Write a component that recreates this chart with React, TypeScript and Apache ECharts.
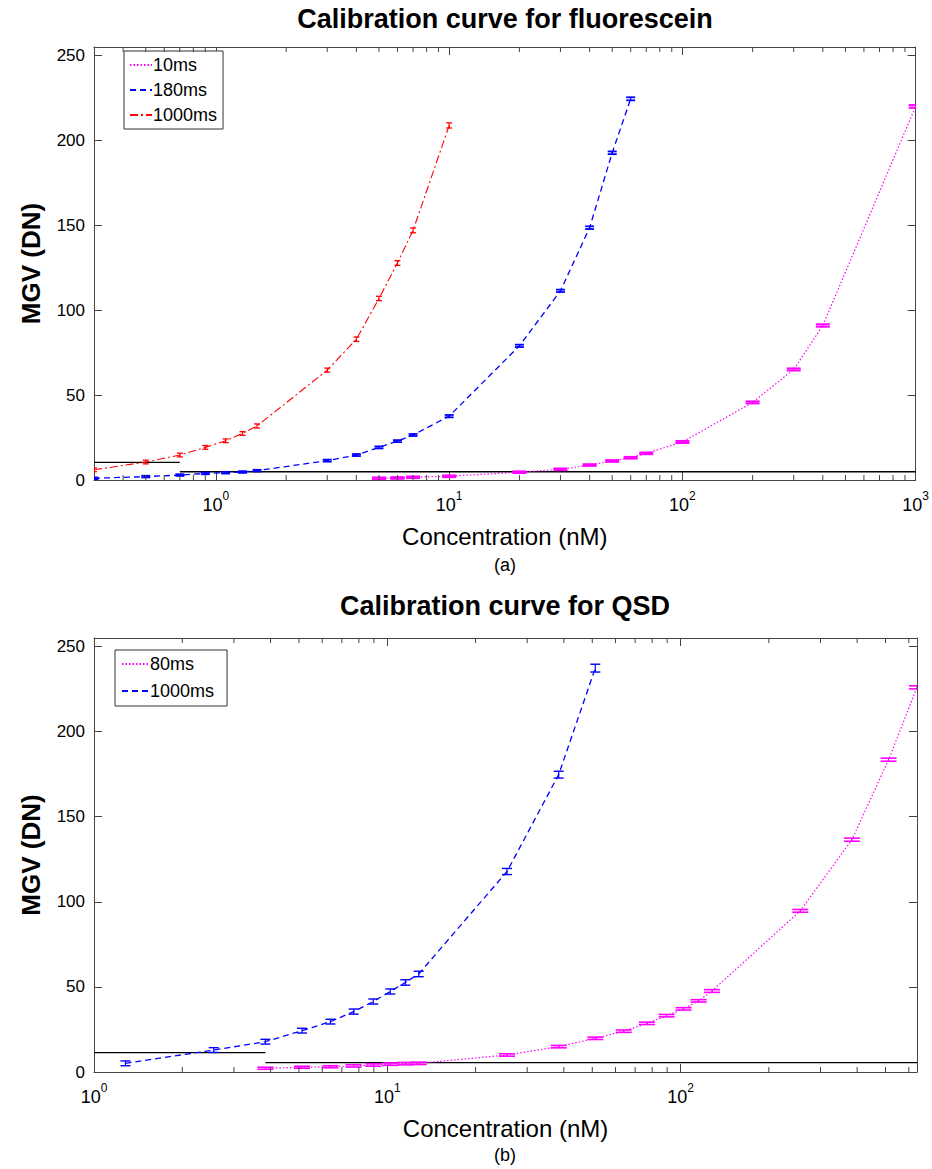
import React, { useEffect, useRef } from "react";
import * as echarts from "echarts";

// ---------- Panel (a): fluorescein ----------
const fConc10 = [5, 6, 7, 10, 20, 30, 40, 50, 60, 70, 100, 200, 300, 400, 1000];
const fMgv10 = [1.0, 1.2, 1.6, 2.2, 4.6, 6.3, 8.8, 11.2, 13.1, 15.7, 22.4, 45.7, 65.1, 91, 220];
const fErr10 = [0.5, 0.5, 0.5, 0.5, 0.5, 0.5, 0.5, 0.5, 0.5, 0.5, 0.6, 0.6, 0.6, 0.7, 0.8];

const fConc180 = [0.3, 0.5, 0.7, 0.9, 1.1, 1.3, 1.5, 3, 4, 5, 6, 7, 10, 20, 30, 40, 50, 60];
const fMgv180 = [1, 2, 2.9, 3.9, 4.3, 4.7, 5.5, 11.4, 14.7, 19.2, 22.9, 26.5, 37.6, 79, 111.4, 148.6, 192.7, 224.5];
const fErr180 = [0.5, 0.5, 0.5, 0.5, 0.5, 0.5, 0.5, 0.6, 0.6, 0.6, 0.6, 0.6, 0.7, 0.7, 0.7, 0.8, 0.8, 0.9];

const fConc1000 = [0.3, 0.5, 0.7, 0.9, 1.1, 1.3, 1.5, 3, 4, 5, 6, 7, 10];
const fMgv1000 = [6, 10.6, 14.7, 19.2, 23.1, 27.4, 31.8, 64.7, 82.9, 106.9, 127.8, 147, 208.8];
const fErr1000 = [1.1, 1.1, 1.1, 1.1, 1.1, 1.1, 1.2, 1.2, 1.3, 1.3, 1.4, 1.4, 1.5];

const fLodHigh = [[0.3, 10.4], [0.7, 10.4]];
const fLodLow = [[0.7, 4.9], [1000, 4.9]];

// ---------- Panel (b): QSD ----------
const qConc80 = [3.84, 5.12, 6.4, 7.68, 8.96, 10.24, 11.52, 12.8, 25.6, 38.4, 51.2, 64, 76.8, 89.6, 102.4, 115.2, 128, 256, 384, 512, 640];
const qMgv80 = [2.2, 2.8, 3.1, 3.6, 4.1, 4.6, 4.9, 5.1, 10, 14.9, 19.8, 24, 28.6, 33.1, 37.1, 41.8, 47.6, 94.7, 136.5, 183.5, 226];
const qErr80 = [0.6, 0.6, 0.6, 0.7, 0.7, 0.7, 0.7, 0.7, 0.7, 0.7, 0.7, 0.7, 0.7, 0.7, 0.7, 0.7, 0.8, 0.8, 0.9, 0.9, 0.9];

const qConc1000 = [1.28, 2.56, 3.84, 5.12, 6.4, 7.68, 8.96, 10.24, 11.52, 12.8, 25.6, 38.4, 51.2];
const qMgv1000 = [5.1, 12.9, 17.8, 24.3, 29.6, 35.5, 41.4, 47.3, 52.6, 57.6, 117.8, 174.7, 237.3];
const qErr1000 = [1.4, 1.4, 1.4, 1.4, 1.4, 1.5, 1.5, 1.5, 1.6, 1.6, 1.8, 2.0, 2.3];

const qLodHigh = [[1, 11.4], [3.84, 11.4]];
const qLodLow = [[3.84, 5.5], [640, 5.5]];

// axis settings
const yTicks = [0, 50, 100, 150, 200, 250];
const yMax = 255;
const aXMin = 0.3;
const aXMax = 1000;
const bXMin = 1;
const bXMax = 640;

const FONT = "'Liberation Sans', Arial, Helvetica, sans-serif";
const AXIS_COLOR = "#444";

function minorTicks(min: number, max: number): number[] {
  const out: number[] = [];
  for (let e = Math.floor(Math.log10(min)); e <= Math.ceil(Math.log10(max)); e++) {
    for (let m = 2; m <= 9; m++) {
      const v = m * Math.pow(10, e);
      if (v > min * 1.0001 && v < max * 0.9999) out.push(v);
    }
  }
  return out;
}

function zip(xs: number[], ys: number[]) {
  return xs.map((x, i) => [x, ys[i]]);
}

function App() {
  const ref = useRef<HTMLDivElement>(null);

  useEffect(() => {
    document.body.style.margin = "0";
    if (!ref.current) return;
    const chart = echarts.init(ref.current, undefined, { renderer: "svg" });

    const logLabel = (v: number) => {
      const l = Math.log10(v);
      const e = Math.round(l);
      if (Math.abs(l - e) > 1e-6) return "";
      return `{b|10}{s|${e}}`;
    };

    const xAxisBase = (gridIndex: number, min: number, max: number, top: boolean) => ({
      type: "log",
      logBase: 10,
      gridIndex,
      min,
      max,
      position: top ? "top" : "bottom",
      axisLine: { show: true, onZero: false, lineStyle: { color: AXIS_COLOR, width: 1 } },
      axisTick: { show: true, inside: true, length: 8, lineStyle: { color: AXIS_COLOR } },
      splitLine: { show: false },
      axisLabel: top
        ? { show: false }
        : {
            show: true,
            margin: 10,
            color: "#000",
            formatter: logLabel,
            showMinLabel: true,
            showMaxLabel: true,
            rich: {
              b: { fontSize: 18, fontFamily: FONT, color: "#000", lineHeight: 24, verticalAlign: "bottom" },
              s: { fontSize: 12, fontFamily: FONT, color: "#000", verticalAlign: "top", lineHeight: 24 },
            },
          },
      name: top ? "" : "Concentration (nM)",
      nameLocation: "middle",
      nameGap: 44,
      nameTextStyle: { fontSize: 24, fontFamily: FONT, color: "#000" },
    });

    const yAxisBase = (gridIndex: number, right: boolean) => ({
      type: "value",
      gridIndex,
      min: 0,
      max: yMax,
      interval: 50,
      position: right ? "right" : "left",
      axisLine: { show: true, onZero: false, lineStyle: { color: AXIS_COLOR, width: 1 } },
      axisTick: { show: true, inside: true, length: 8, lineStyle: { color: AXIS_COLOR } },
      splitLine: { show: false },
      axisLabel: right
        ? { show: false }
        : {
            show: true,
            margin: 9,
            fontSize: 17,
            fontFamily: FONT,
            color: "#000",
            formatter: (v: number) => (yTicks.includes(v) ? String(v) : ""),
          },
      name: right ? "" : "MGV (DN)",
      nameLocation: "middle",
      nameGap: 50,
      nameTextStyle: { fontSize: 26, fontWeight: "bold", fontFamily: FONT, color: "#000" },
    });

    const lineSeries = (name: string, data: number[][], color: string, dash: any, xi: number, yi: number, width = 1.3) => ({
      type: "line",
      name,
      xAxisIndex: xi,
      yAxisIndex: yi,
      data,
      symbol: "none",
      showSymbol: false,
      clip: true,
      lineStyle: { color, width, type: dash },
      itemStyle: { color },
      z: 3,
    });

    const errSeries = (
      name: string,
      xs: number[],
      ys: number[],
      errs: number[],
      color: string,
      cap: number,
      capWidth: number,
      xi: number,
      yi: number
    ) => ({
      type: "custom",
      name,
      xAxisIndex: xi,
      yAxisIndex: yi,
      clip: true,
      silent: true,
      z: 4,
      data: xs.map((x, i) => [x, ys[i], errs[i]]),
      encode: { x: 0, y: 1 },
      renderItem: (params: any, api: any) => {
        const x = api.value(0);
        const y = api.value(1);
        const e = api.value(2);
        const lo = api.coord([x, y - e]);
        const hi = api.coord([x, y + e]);
        const hw = cap / 2;
        const st = { stroke: color, lineWidth: capWidth };
        return {
          type: "group",
          children: [
            { type: "line", shape: { x1: lo[0], y1: lo[1], x2: hi[0], y2: hi[1] }, style: { stroke: color, lineWidth: 1.2 } },
            { type: "line", shape: { x1: lo[0] - hw, y1: lo[1], x2: lo[0] + hw, y2: lo[1] }, style: st },
            { type: "line", shape: { x1: hi[0] - hw, y1: hi[1], x2: hi[0] + hw, y2: hi[1] }, style: st },
          ],
        };
      },
    });

    const minorSeries = (vals: number[], xi: number, yi: number) => ({
      type: "custom",
      xAxisIndex: xi,
      yAxisIndex: yi,
      silent: true,
      clip: false,
      z: 5,
      data: vals.map((v) => [v, 0]),
      encode: { x: 0, y: 1 },
      renderItem: (params: any, api: any) => {
        const x = api.value(0);
        const b = api.coord([x, 0]);
        const t = api.coord([x, yMax]);
        const st = { stroke: AXIS_COLOR, lineWidth: 1 };
        return {
          type: "group",
          children: [
            { type: "line", shape: { x1: b[0], y1: b[1], x2: b[0], y2: b[1] - 5 }, style: st },
            { type: "line", shape: { x1: t[0], y1: t[1], x2: t[0], y2: t[1] + 5 }, style: st },
          ],
        };
      },
    });

    const lodSeries = (data: number[][], xi: number, yi: number) => ({
      type: "line",
      xAxisIndex: xi,
      yAxisIndex: yi,
      data,
      symbol: "none",
      silent: true,
      lineStyle: { color: "#000", width: 1.4, type: "solid" },
      z: 2,
    });

    const MAG = "#ff00ff";
    const BLUE = "#0000ff";
    const RED = "#ff0000";
    const dotted = [1.5, 2];
    const dashed = [6, 4];
    const dashDot = [8, 3, 2, 3];

    const option: any = {
      animation: false,
      backgroundColor: "#fff",
      grid: [
        { left: 94, top: 47, width: 823, height: 433, containLabel: false },
        { left: 94, top: 638, width: 823, height: 434, containLabel: false },
      ],
      xAxis: [
        xAxisBase(0, aXMin, aXMax, false),
        xAxisBase(0, aXMin, aXMax, true),
        xAxisBase(1, bXMin, bXMax, false),
        xAxisBase(1, bXMin, bXMax, true),
      ],
      yAxis: [yAxisBase(0, false), yAxisBase(0, true), yAxisBase(1, false), yAxisBase(1, true)],
      legend: [
        {
          data: ["10ms", "180ms", "1000ms"],
          orient: "vertical",
          left: 124,
          top: 51,
          padding: [5, 6, 5, 5],
          itemGap: 7,
          itemWidth: 22,
          itemHeight: 16,
          borderColor: "#333",
          borderWidth: 1,
          borderRadius: 0,
          backgroundColor: "#fff",
          selectedMode: false,
          itemStyle: { opacity: 0, borderWidth: 0 },
          textStyle: { fontSize: 18, fontFamily: FONT, color: "#000", padding: [0, 0, 0, -4] },
        },
        {
          data: ["80ms", "1000ms "],
          orient: "vertical",
          left: 115,
          top: 650,
          padding: [5, 8, 6, 6],
          itemGap: 9,
          itemWidth: 26,
          itemHeight: 18,
          borderColor: "#333",
          borderWidth: 1,
          borderRadius: 0,
          backgroundColor: "#fff",
          selectedMode: false,
          itemStyle: { opacity: 0, borderWidth: 0 },
          textStyle: { fontSize: 18, fontFamily: FONT, color: "#000", padding: [0, 0, 0, -3] },
        },
      ],
      graphic: [
        {
          type: "text",
          x: 505,
          y: 19,
          style: {
            text: "Calibration curve for fluorescein",
            fontSize: 27,
            fontWeight: "bold",
            fontFamily: FONT,
            fill: "#000",
            align: "center",
            verticalAlign: "middle",
          },
        },
        {
          type: "text",
          x: 505,
          y: 565,
          style: { text: "(a)", fontSize: 18, fontFamily: FONT, fill: "#000", align: "center", verticalAlign: "middle" },
        },
        {
          type: "text",
          x: 505,
          y: 606,
          style: {
            text: "Calibration curve for QSD",
            fontSize: 27,
            fontWeight: "bold",
            fontFamily: FONT,
            fill: "#000",
            align: "center",
            verticalAlign: "middle",
          },
        },
        {
          type: "text",
          x: 505,
          y: 1155,
          style: { text: "(b)", fontSize: 18, fontFamily: FONT, fill: "#000", align: "center", verticalAlign: "middle" },
        },
      ],
      series: [
        minorSeries(minorTicks(aXMin, aXMax), 0, 0),
        minorSeries(minorTicks(bXMin, bXMax), 2, 2),
        lodSeries(fLodHigh, 0, 0),
        lodSeries(fLodLow, 0, 0),
        lodSeries(qLodHigh, 2, 2),
        lodSeries(qLodLow, 2, 2),
        lineSeries("10ms", zip(fConc10, fMgv10), MAG, dotted, 0, 0, 1.2),
        lineSeries("180ms", zip(fConc180, fMgv180), BLUE, dashed, 0, 0),
        lineSeries("1000ms", zip(fConc1000, fMgv1000), RED, dashDot, 0, 0, 1.1),
        errSeries("10ms err", fConc10, fMgv10, fErr10, MAG, 14, 2, 0, 0),
        errSeries("180ms err", fConc180, fMgv180, fErr180, BLUE, 9, 1.8, 0, 0),
        errSeries("1000ms err", fConc1000, fMgv1000, fErr1000, RED, 6, 1.3, 0, 0),
        lineSeries("80ms", zip(qConc80, qMgv80), MAG, dotted, 2, 2, 1.2),
        lineSeries("1000ms ", zip(qConc1000, qMgv1000), BLUE, dashed, 2, 2),
        errSeries("80ms err", qConc80, qMgv80, qErr80, MAG, 16, 1.6, 2, 2),
        errSeries("1000ms b err", qConc1000, qMgv1000, qErr1000, BLUE, 10, 1.4, 2, 2),
      ],
    };

    chart.setOption(option);
    return () => {
      chart.dispose();
    };
  }, []);

  return <div ref={ref} style={{ width: 932, height: 1169 }} />;
}

export default App;
